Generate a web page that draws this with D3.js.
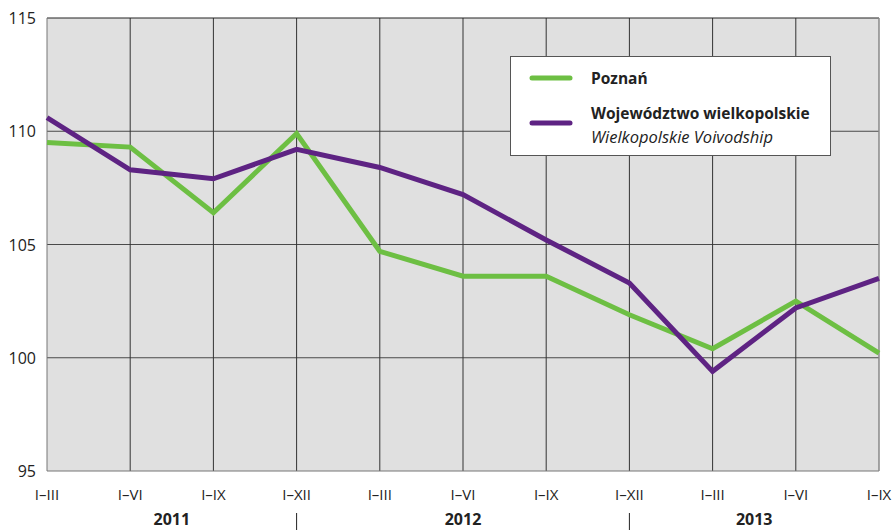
<!DOCTYPE html>
<html><head><meta charset="utf-8">
<script src="https://cdn.jsdelivr.net/npm/d3@7"></script>
<style>body{margin:0;background:#fff}svg{display:block;font-family:"Open Sans",Lato,sans-serif}</style>
</head><body><svg id="c" width="894" height="530"></svg>
<script>
const periods = ["I–III","I–VI","I–IX","I–XII","I–III","I–VI","I–IX","I–XII","I–III","I–VI","I–IX"];
const years = [{label:"2011", from:0, to:3}, {label:"2012", from:3, to:7}, {label:"2013", from:7, to:10}];
const poznan = [109.5,109.3,106.4,109.9,104.7,103.6,103.6,101.9,100.4,102.5,100.2];
const wlkp = [110.6,108.3,107.9,109.2,108.4,107.2,105.2,103.3,99.4,102.2,103.5];
const yTicks = [95,100,105,110,115];
const seriesNames = ["Poznań","Województwo wielkopolskie"];
const seriesSub = ["","Wielkopolskie Voivodship"];
const colors = ["#6dbf43","#5e2383"];

const svg = d3.select("#c");
const L=47,R=879,T=18,B=471;
const x = d3.scaleLinear().domain([0,periods.length-1]).range([L,R]);
const y = d3.scaleLinear().domain([95,115]).range([B,T]);

svg.append("rect").attr("x",L).attr("y",T).attr("width",R-L).attr("height",B-T).attr("fill","#e0e0e0");
svg.selectAll(".hg").data(yTicks.filter(v=>v>95&&v<115)).join("line")
 .attr("x1",L).attr("x2",R).attr("y1",d=>y(d)).attr("y2",d=>y(d)).attr("stroke","#4a4a4a").attr("stroke-width",1);
svg.selectAll(".vg").data(d3.range(1,periods.length-1)).join("line")
 .attr("x1",d=>x(d)).attr("x2",d=>x(d)).attr("y1",T).attr("y2",B).attr("stroke","#333").attr("stroke-width",1);
svg.append("line").attr("x1",L).attr("x2",R).attr("y1",T).attr("y2",T).attr("stroke","#222");
svg.append("line").attr("x1",L).attr("x2",R).attr("y1",B).attr("y2",B).attr("stroke","#777");
svg.append("line").attr("x1",L).attr("x2",L).attr("y1",T).attr("y2",B).attr("stroke","#777");
svg.append("line").attr("x1",R).attr("x2",R).attr("y1",T).attr("y2",B).attr("stroke","#888").attr("stroke-width",1.5);

svg.selectAll(".yl").data(yTicks).join("text")
 .attr("x",36).attr("y",d=>y(d)+6).attr("text-anchor","end").attr("font-size",16).attr("fill","#222").text(d=>d);
svg.selectAll(".xl").data(periods).join("text")
 .attr("x",(d,i)=>x(i)).attr("y",500).attr("text-anchor","middle").attr("font-size",15).attr("fill","#222").text(d=>d);
svg.selectAll(".yr").data(years).join("text")
 .attr("x",d=>(x(d.from)+x(d.to))/2).attr("y",525).attr("text-anchor","middle").attr("font-size",16).attr("font-weight","bold").attr("fill","#222").text(d=>d.label);
svg.selectAll(".sep").data([3,7]).join("line")
 .attr("x1",d=>x(d)).attr("x2",d=>x(d)).attr("y1",513).attr("y2",530).attr("stroke","#222");

const line = d3.line().x((d,i)=>x(i)).y(d=>y(d));
[poznan,wlkp].forEach((s,k)=>{
 svg.append("path").attr("d",line(s)).attr("fill","none").attr("stroke",colors[k]).attr("stroke-width",5).attr("stroke-linejoin","miter");
});

const lg = svg.append("g");
lg.append("rect").attr("x",510.5).attr("y",56.5).attr("width",320).attr("height",99).attr("fill","#fff").attr("stroke","#555");
[78,123].forEach((ly,k)=>{
 lg.append("line").attr("x1",532).attr("x2",570).attr("y1",ly).attr("y2",ly).attr("stroke",colors[k]).attr("stroke-width",5).attr("stroke-linecap","round");
});
lg.append("text").attr("x",591).attr("y",84).attr("font-size",15.5).attr("font-weight","bold").attr("fill","#222").text(seriesNames[0]);
lg.append("text").attr("x",591).attr("y",119).attr("font-size",15.5).attr("font-weight","bold").attr("fill","#222").text(seriesNames[1]);
lg.append("text").attr("x",591).attr("y",143).attr("font-size",16.5).attr("font-style","italic").attr("fill","#222").text(seriesSub[1]);
</script></body></html>
